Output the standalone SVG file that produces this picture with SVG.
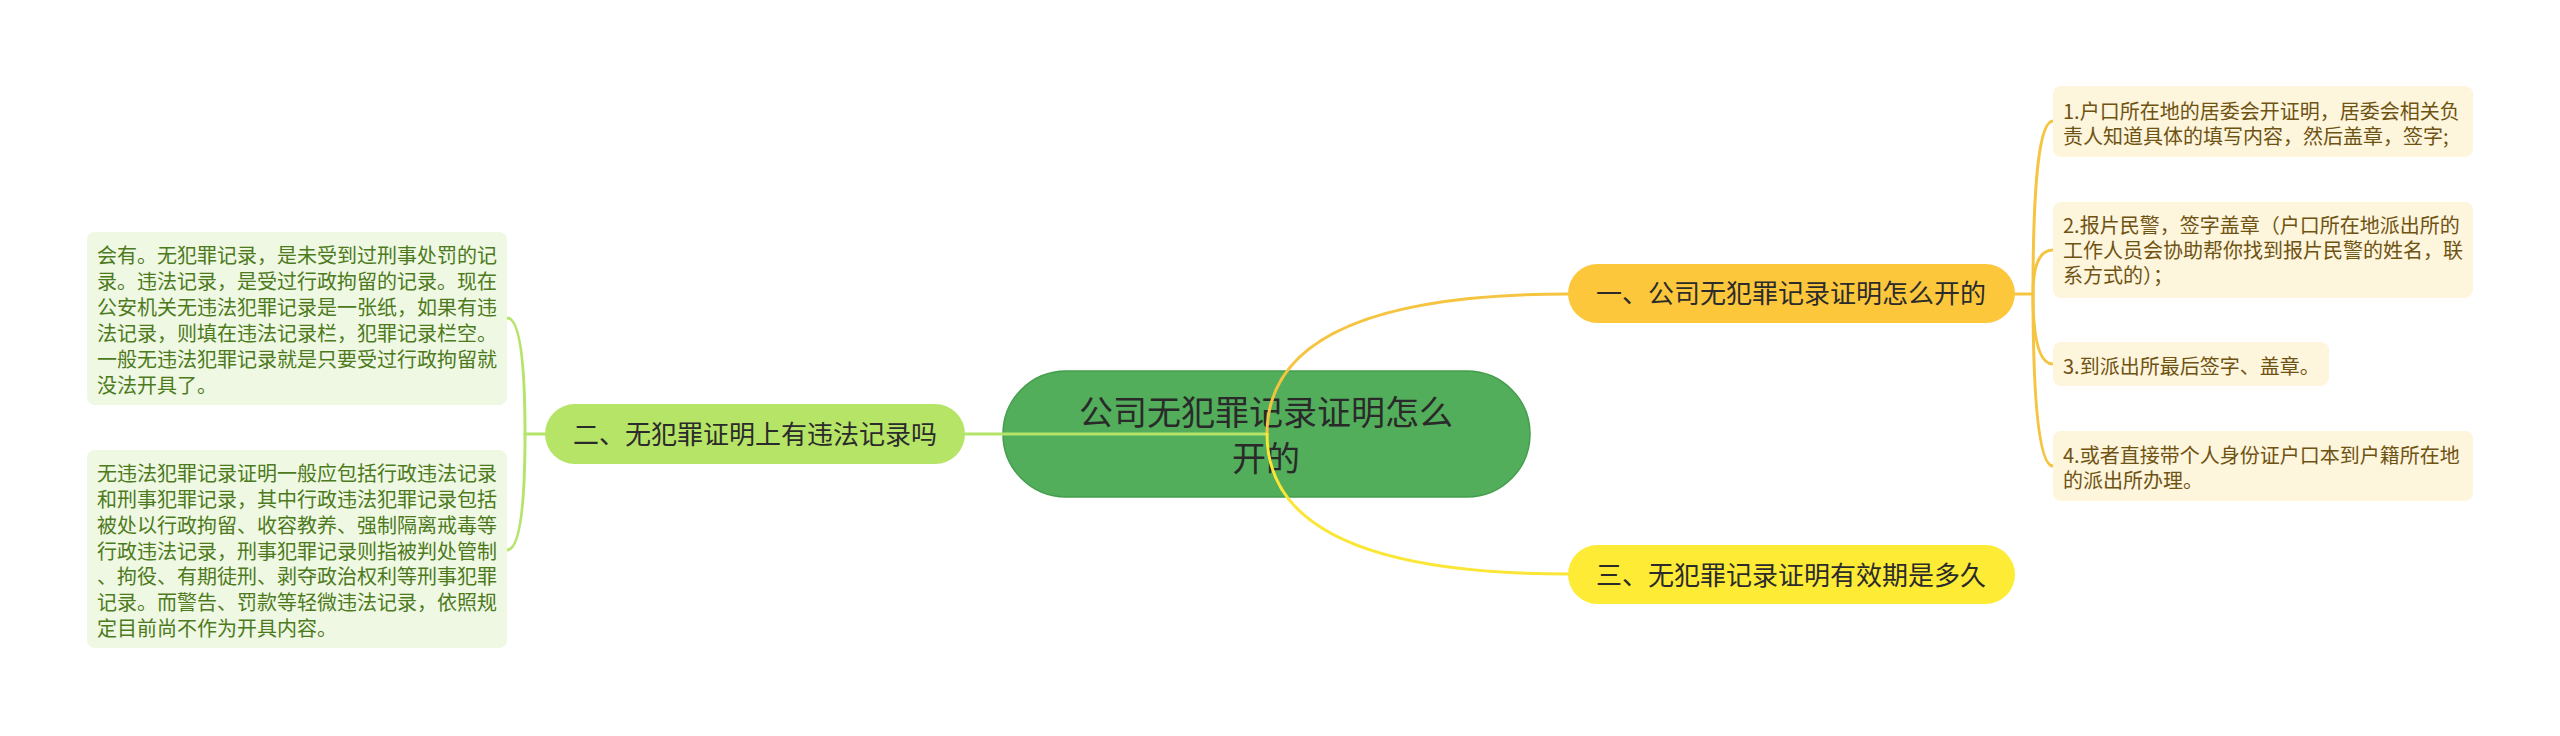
<svg xmlns="http://www.w3.org/2000/svg" width="2560" height="736" viewBox="0 0 2560 736">
<style>
text{font-family:"Noto Sans CJK SC","Microsoft YaHei",sans-serif;}
.c{fill:none;stroke-width:3;stroke-linecap:round}
.lg{fill:#eff8e3}
.lt{font-size:20px;fill:#4d7a1c}
.ry{fill:#fef5dd}
.rt{font-size:20px;fill:#6e5312}
.bt{font-size:26px;fill:#2b2b2b;text-anchor:middle}
</style>
<rect width="2560" height="736" fill="#ffffff"/>
<g id="center">
<rect x="1003" y="371" width="527" height="126" rx="63" fill="#52ae5a" stroke="#449d4c" stroke-width="1.5"/>
<text x="1266" y="424.5" style="font-size:34px;fill:#2a2a2a" text-anchor="middle">公司无犯罪记录证明怎么</text>
<text x="1266" y="471" style="font-size:34px;fill:#2a2a2a" text-anchor="middle">开的</text>
</g>
<g id="connectors">
<path class="c" stroke="#b5e46a" d="M1267 434 L965 434"/>
<path class="c" stroke="#f5c441" d="M1267 434 Q1267 294 1568 294"/>
<path class="c" stroke="#fbe637" d="M1267 434 Q1267 574 1568 574"/>
<path class="c" stroke="#b5e46a" d="M545 434 L525 434 Q525 318 507 318"/>
<path class="c" stroke="#b5e46a" d="M525 434 Q525 550 507 550"/>
<path class="c" stroke="#f5c441" d="M2015 294 L2033 294 Q2033 121 2053 121"/>
<path class="c" stroke="#f5c441" d="M2033 294 Q2033 250 2053 250"/>
<path class="c" stroke="#f5c441" d="M2033 294 Q2033 364 2053 364"/>
<path class="c" stroke="#f5c441" d="M2033 294 Q2033 466 2053 466"/>
</g>
<g id="b1">
<rect x="1568" y="264" width="447" height="59" rx="29.5" fill="#fcc73b"/>
<text class="bt" x="1791" y="303">一、公司无犯罪记录证明怎么开的</text>
</g>
<g id="b2">
<rect x="545" y="404" width="420" height="60" rx="30" fill="#b5e466"/>
<text class="bt" x="755" y="444">二、无犯罪证明上有违法记录吗</text>
</g>
<g id="b3">
<rect x="1568" y="545" width="447" height="59" rx="29.5" fill="#fdeb35"/>
<text class="bt" x="1791" y="584.5">三、无犯罪记录证明有效期是多久</text>
</g>
<g id="l1">
<rect class="lg" x="87" y="232" width="420" height="173" rx="8"/>
<text class="lt" x="97" y="262.6">会有。无犯罪记录，是未受到过刑事处罚的记</text>
<text class="lt" x="97" y="288.6">录。违法记录，是受过行政拘留的记录。现在</text>
<text class="lt" x="97" y="314.6">公安机关无违法犯罪记录是一张纸，如果有违</text>
<text class="lt" x="97" y="340.6">法记录，则填在违法记录栏，犯罪记录栏空。</text>
<text class="lt" x="97" y="366.6">一般无违法犯罪记录就是只要受过行政拘留就</text>
<text class="lt" x="97" y="392.6">没法开具了。</text>
</g>
<g id="l2">
<rect class="lg" x="87" y="450" width="420" height="198" rx="8"/>
<text class="lt" x="97" y="481.1">无违法犯罪记录证明一般应包括行政违法记录</text>
<text class="lt" x="97" y="506.9">和刑事犯罪记录，其中行政违法犯罪记录包括</text>
<text class="lt" x="97" y="532.7">被处以行政拘留、收容教养、强制隔离戒毒等</text>
<text class="lt" x="97" y="558.5">行政违法记录，刑事犯罪记录则指被判处管制</text>
<text class="lt" x="97" y="584.3">、拘役、有期徒刑、剥夺政治权利等刑事犯罪</text>
<text class="lt" x="97" y="610.1">记录。而警告、罚款等轻微违法记录，依照规</text>
<text class="lt" x="97" y="635.9">定目前尚不作为开具内容。</text>
</g>
<g id="r1">
<rect class="ry" x="2053" y="86" width="420" height="71" rx="8"/>
<text class="rt" x="2063" y="119.3">1.户口所在地的居委会开证明，居委会相关负</text>
<text class="rt" x="2063" y="144.3">责人知道具体的填写内容，然后盖章，签字;</text>
</g>
<g id="r2">
<rect class="ry" x="2053" y="202" width="420" height="96" rx="8"/>
<text class="rt" x="2063" y="232.6">2.报片民警，签字盖章（户口所在地派出所的</text>
<text class="rt" x="2063" y="257.6">工作人员会协助帮你找到报片民警的姓名，联</text>
<text class="rt" x="2063" y="282.6">系方式的）；</text>
</g>
<g id="r3">
<rect class="ry" x="2053" y="342" width="276" height="44" rx="8"/>
<text class="rt" x="2063" y="374.3">3.到派出所最后签字、盖章。</text>
</g>
<g id="r4">
<rect class="ry" x="2053" y="431" width="420" height="70" rx="8"/>
<text class="rt" x="2063" y="462.6">4.或者直接带个人身份证户口本到户籍所在地</text>
<text class="rt" x="2063" y="487.6">的派出所办理。</text>
</g>
</svg>
